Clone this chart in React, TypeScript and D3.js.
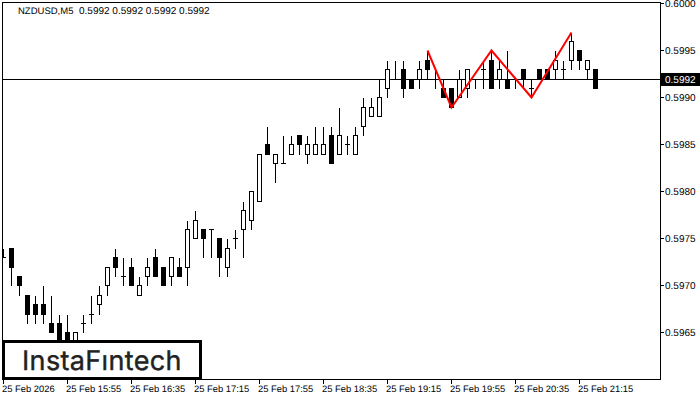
import * as d3 from "d3";

// 5 minute candles, oldest first
const opens = [
  0.5973, 0.5974, 0.5971, 0.5969, 0.5968, 0.5968, 0.5966, 0.5966, 0.5965, 0.5964,
  0.5966, 0.5967, 0.5968, 0.597, 0.5973, 0.5971, 0.5972, 0.5969, 0.5971, 0.5973,
  0.5972, 0.5971, 0.5972, 0.5972, 0.5975, 0.5976, 0.5976, 0.5975, 0.5972, 0.5975,
  0.5976, 0.5977, 0.5979, 0.5985, 0.5983, 0.5983, 0.5984, 0.5986, 0.5984, 0.5984,
  0.5984, 0.5986, 0.5984, 0.5985, 0.5984, 0.5987, 0.5988, 0.5988, 0.5991, 0.5992,
  0.5993, 0.5992, 0.5992, 0.5994, 0.5992, 0.5991, 0.5991, 0.599, 0.5991, 0.5992,
  0.5993, 0.5994, 0.5992, 0.5992, 0.5992, 0.5993, 0.5991, 0.5993, 0.5993, 0.5993,
  0.5993, 0.5994, 0.5995, 0.5993, 0.5993,
];
const highs = [
  0.5974, 0.5974, 0.5971, 0.5969, 0.5969, 0.597, 0.5969, 0.5967, 0.5967, 0.5965,
  0.5967, 0.5969, 0.597, 0.5972, 0.5974, 0.5973, 0.5973, 0.5971, 0.5973, 0.5974,
  0.5972, 0.5973, 0.5973, 0.5977, 0.5978, 0.5976, 0.5976, 0.5975, 0.5975, 0.5976,
  0.5979, 0.598, 0.5984, 0.5987, 0.5984, 0.5986, 0.5986, 0.5986, 0.5986, 0.5987,
  0.5987, 0.5987, 0.5989, 0.5986, 0.5987, 0.599, 0.599, 0.5992, 0.5994, 0.5994,
  0.5994, 0.5992, 0.5994, 0.5995, 0.5993, 0.5992, 0.5991, 0.5993, 0.5993, 0.5992,
  0.5994, 0.5995, 0.5994, 0.5995, 0.5992, 0.5993, 0.5992, 0.5993, 0.5993, 0.5995,
  0.5994, 0.5997, 0.5995, 0.5994, 0.5993,
];
const lows = [
  0.5973, 0.597, 0.5969, 0.5966, 0.5966, 0.5966, 0.5965, 0.5963, 0.5963, 0.5964,
  0.5965, 0.5966, 0.5967, 0.5969, 0.5971, 0.597, 0.597, 0.5969, 0.597, 0.5971,
  0.597, 0.597, 0.5971, 0.597, 0.5975, 0.5973, 0.5973, 0.5971, 0.5971, 0.5974,
  0.5973, 0.5976, 0.5979, 0.5984, 0.5981, 0.5983, 0.5984, 0.5984, 0.5983, 0.5984,
  0.5984, 0.5983, 0.5984, 0.5984, 0.5984, 0.5986, 0.5988, 0.5988, 0.599, 0.5992,
  0.599, 0.5991, 0.5991, 0.5992, 0.5991, 0.599, 0.5989, 0.599, 0.599, 0.5991,
  0.5991, 0.5991, 0.5991, 0.5991, 0.5991, 0.5991, 0.599, 0.5992, 0.5992, 0.5992,
  0.5992, 0.5993, 0.5993, 0.5992, 0.5991,
];
const closes = [
  0.5973, 0.5972, 0.597, 0.5967, 0.5967, 0.5967, 0.5965, 0.5964, 0.5964, 0.5965,
  0.5966, 0.5967, 0.5969, 0.5972, 0.5972, 0.5971, 0.597, 0.597, 0.5972, 0.5971,
  0.597, 0.5973, 0.5971, 0.5976, 0.5977, 0.5975, 0.5976, 0.5973, 0.5974, 0.5975,
  0.5978, 0.598, 0.5984, 0.5984, 0.5984, 0.5983, 0.5985, 0.5985, 0.5985, 0.5985,
  0.5985, 0.5983, 0.5986, 0.5985, 0.5986, 0.5989, 0.5989, 0.599, 0.5993, 0.5992,
  0.5991, 0.5991, 0.5993, 0.5993, 0.5992, 0.599, 0.5989, 0.5992, 0.5993, 0.5992,
  0.5993, 0.5991, 0.5993, 0.5991, 0.5992, 0.5992, 0.5991, 0.5992, 0.5992, 0.5994,
  0.5993, 0.5996, 0.5994, 0.5994, 0.5991,
];

// the red pattern, as candle index and price
const patternIndex = [53, 56, 61, 66, 71];
const patternPrice = [0.5995, 0.5989, 0.5995, 0.599, 0.5997];

const priceTicks = [0.6, 0.5995, 0.599, 0.5985, 0.598, 0.5975, 0.597, 0.5965];
const timeTickIndex = [0, 8, 16, 24, 32, 40, 48, 56, 64, 72];
const timeLabels = [
  "25 Feb 2026", "25 Feb 15:55", "25 Feb 16:35", "25 Feb 17:15", "25 Feb 17:55",
  "25 Feb 18:35", "25 Feb 19:15", "25 Feb 19:55", "25 Feb 20:35", "25 Feb 21:15",
];
const lastPrice = 0.5992;

const left = 2, top = 2, right = 660, bottom = 379;
const fontFamily = "'Liberation Sans', sans-serif";

const x = d3.scaleLinear().domain([0, 74]).range([3.5, 595.5]);
const yRaw = d3.scaleLinear().domain([0.5965, 0.6]).range([332.4, 3.4]);
// pixel snapped like the terminal draws it
const y = (v: number) => Math.round(yRaw(v)) + 0.5;

const patternLine = d3
  .line<number>()
  .x((d) => x(d))
  .y((_, i) => y(patternPrice[i]));

const Candle = ({ i }: { i: number }) => {
  const cx = x(i);
  const o = y(opens[i]), c = y(closes[i]);
  const up = closes[i] > opens[i];
  const flat = closes[i] === opens[i];
  return (
    <g shapeRendering="crispEdges">
      <line x1={cx} x2={cx} y1={y(highs[i])} y2={y(lows[i])} stroke="#000" />
      {flat ? (
        <line x1={cx - 2.5} x2={cx + 2.5} y1={o} y2={o} stroke="#000" />
      ) : (
        <rect
          x={cx - 2}
          y={Math.min(o, c)}
          width={4}
          height={Math.abs(o - c)}
          fill={up ? "#fff" : "#000"}
          stroke="#000"
        />
      )}
    </g>
  );
};

export default function App() {
  return (
    <svg
      width={700}
      height={400}
      style={{ position: "absolute", left: 0, top: 0, background: "#fff" }}
      fontFamily={fontFamily}
      fontSize={10}
      textRendering="geometricPrecision"
    >
      <defs>
        <clipPath id="plot">
          <rect x={left} y={top} width={right - left} height={bottom - top} />
        </clipPath>
      </defs>
      <line x1={left} x2={right} y1={y(lastPrice)} y2={y(lastPrice)} stroke="#000" shapeRendering="crispEdges" />
      <g clipPath="url(#plot)">
        {opens.map((_, i) => (
          <Candle key={i} i={i} />
        ))}
      </g>
      <path d={patternLine(patternIndex) ?? ""} fill="none" stroke="#f00" strokeWidth={2} />

      <rect
        x={left + 0.5}
        y={top + 0.5}
        width={right - left}
        height={bottom - top}
        fill="none"
        stroke="#000"
        shapeRendering="crispEdges"
      />

      {priceTicks.map((p) => (
        <g key={p}>
          <line x1={right} x2={right + 4} y1={y(p)} y2={y(p)} stroke="#000" shapeRendering="crispEdges" />
          <text x={665} y={y(p) + 3.6} fill="#000">
            {p.toFixed(4)}
          </text>
        </g>
      ))}

      <rect x={661} y={73} width={39} height={13} fill="#000" />
      <text x={665} y={y(lastPrice) + 3.6} fill="#fff">
        {lastPrice.toFixed(4)}
      </text>

      {timeTickIndex.map((t, k) => (
        <g key={t}>
          <line x1={x(t)} x2={x(t)} y1={bottom} y2={bottom + 5} stroke="#000" shapeRendering="crispEdges" />
          <text x={x(t) - 1.5} y={392} fill="#000" fontSize={9.4}>
            {timeLabels[k]}
          </text>
        </g>
      ))}

      <text x={18} y={14} fill="#000">
        <tspan fontSize={9.5}>NZDUSD,M5</tspan>
        <tspan x={79}>0.5992 0.5992 0.5992 0.5992</tspan>
      </text>

      <rect x={3.5} y={341} width={197} height={37} fill="#fff" stroke="#000" strokeWidth={3} shapeRendering="crispEdges" />
      <text
        x={22}
        y={369.5}
        fontFamily="Inter, sans-serif"
        fontWeight={400}
        fontSize={27}
        letterSpacing={0.35}
        fill="#222"
        stroke="#222"
        strokeWidth={0.4}
      >
        InstaFıntech
      </text>
    </svg>
  );
}
